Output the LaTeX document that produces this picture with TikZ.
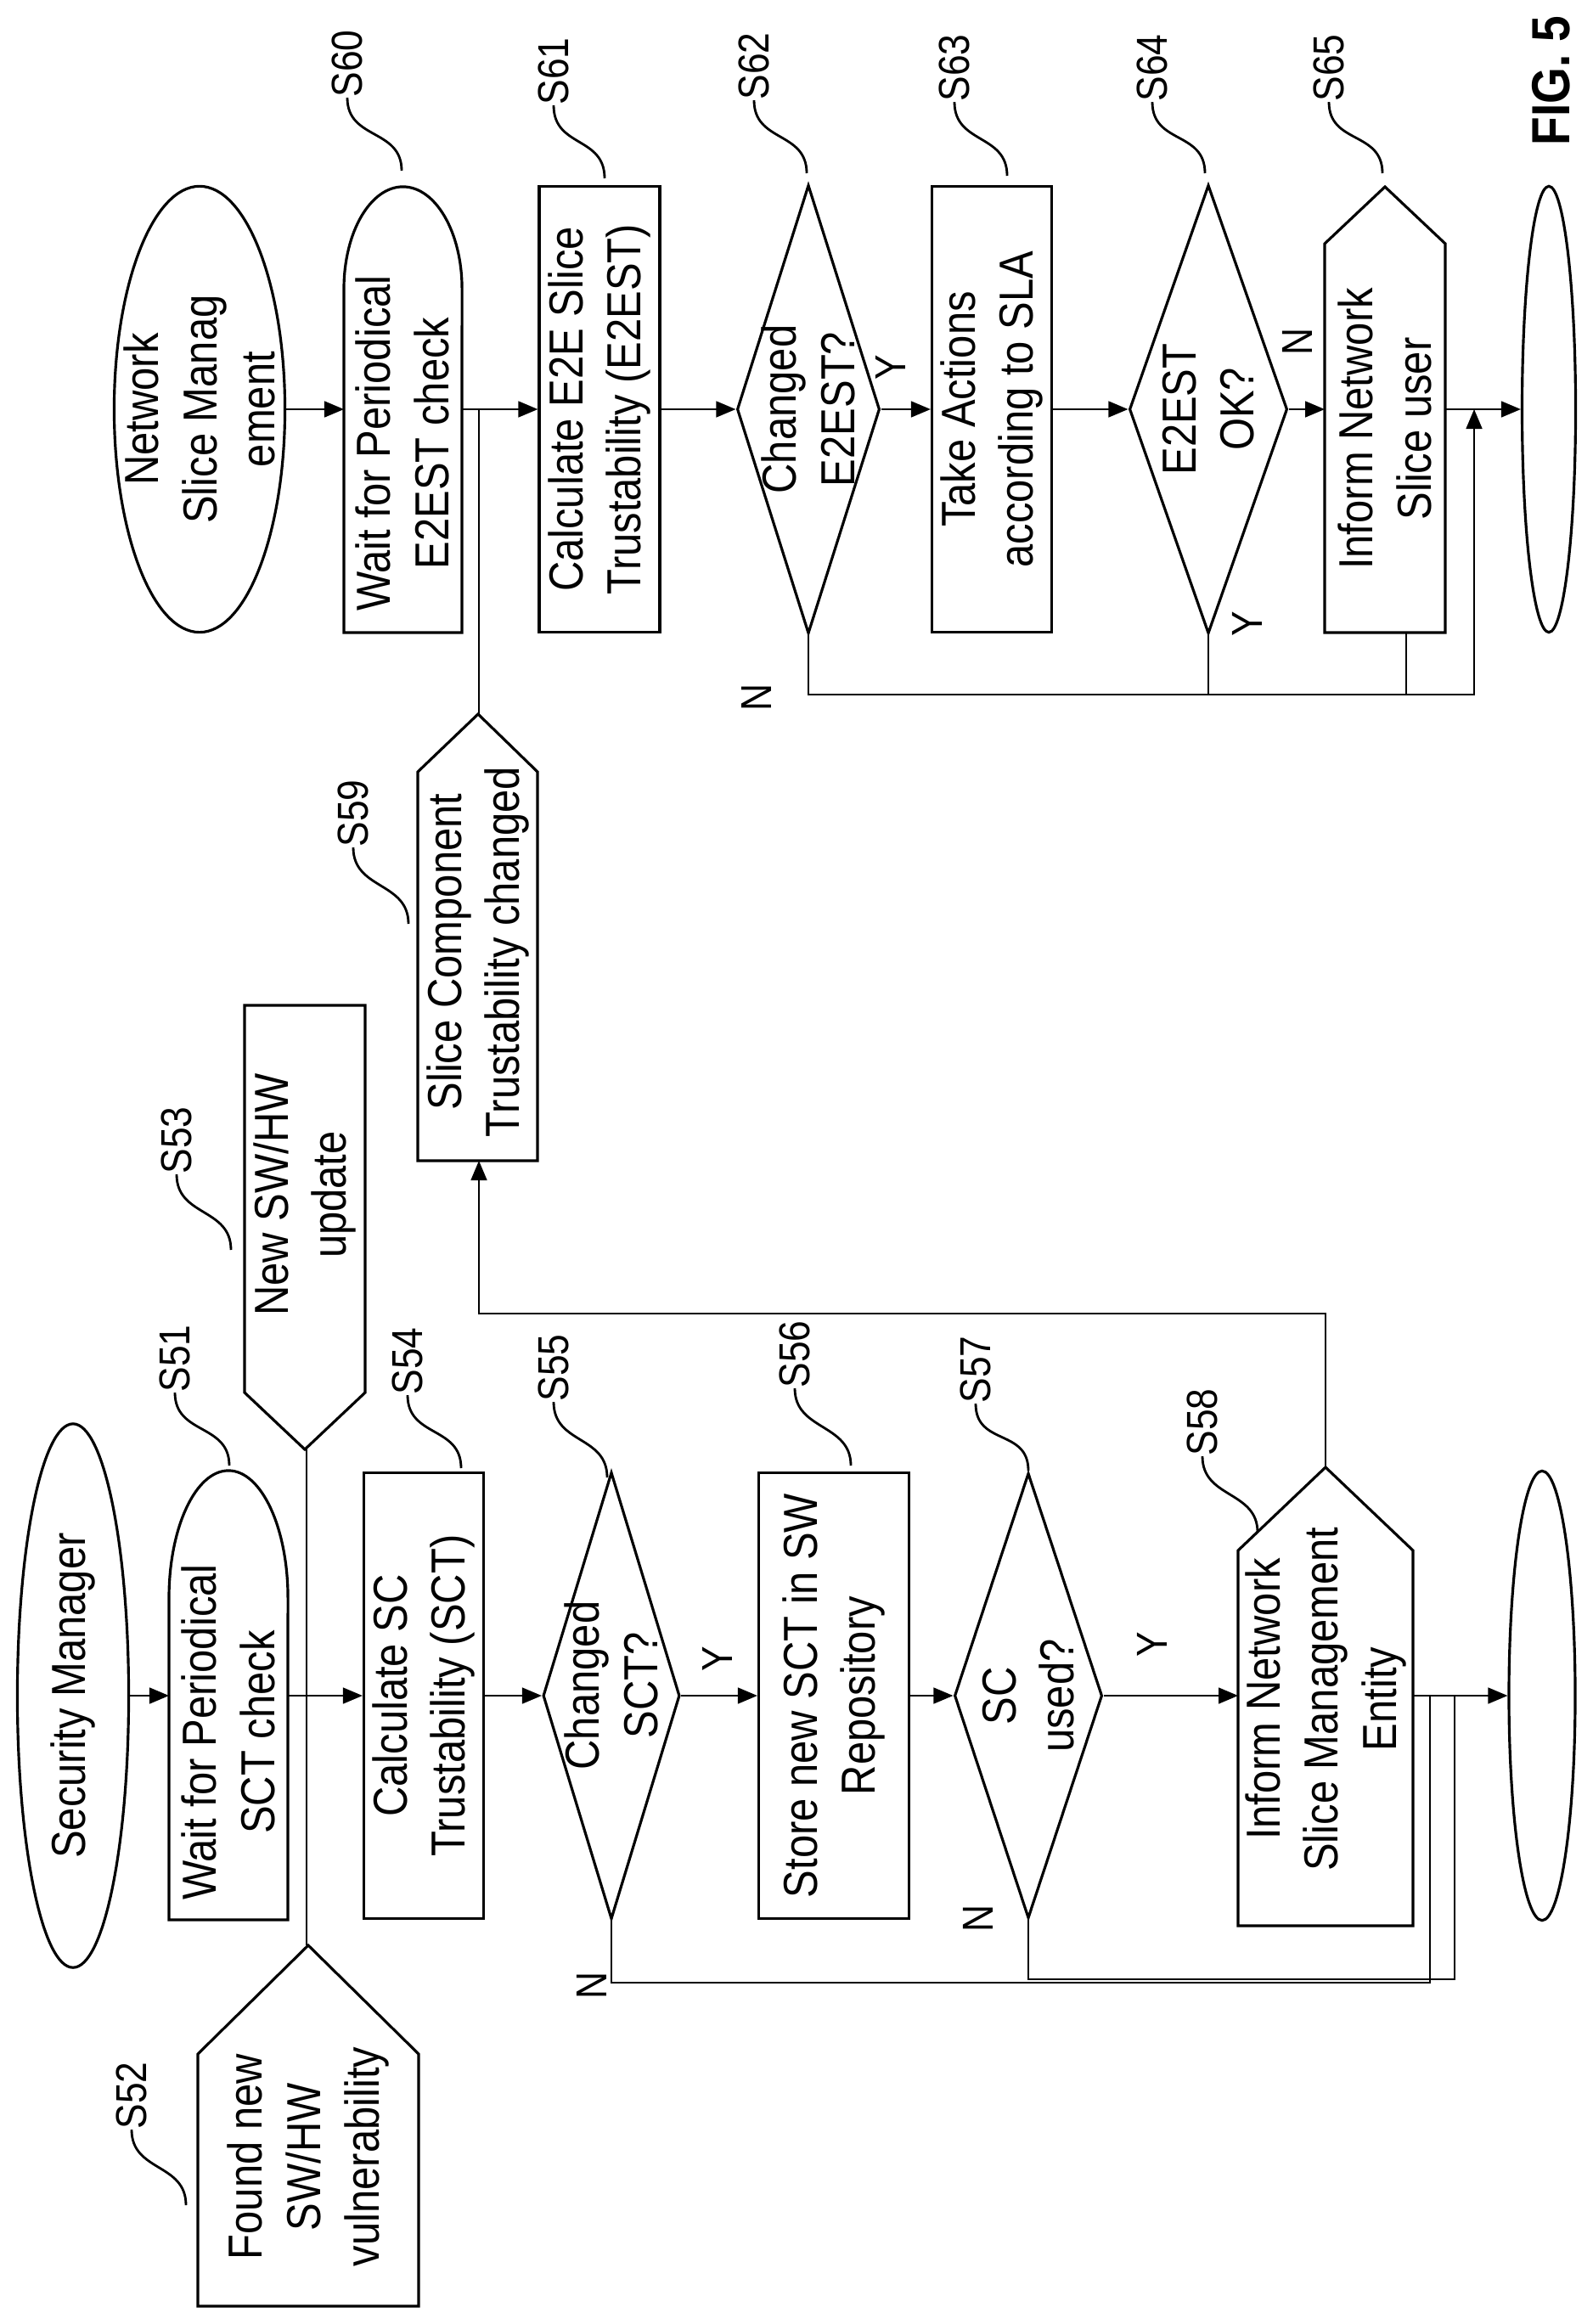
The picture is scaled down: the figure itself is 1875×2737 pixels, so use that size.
\documentclass[tikz,border=0pt]{standalone}
\usepackage{fontspec}
\setmainfont{Liberation Sans}[FakeStretch=0.87]
\usetikzlibrary{shapes.geometric,arrows.meta}

\newcommand{\boxfont}{\fontsize{16}{19.5}\selectfont}
\newcommand{\stepfont}{\fontsize{14.5}{17}\selectfont}

\tikzset{
  shp/.style={draw, line width=0.9pt, rotate=90, inner sep=0pt},
  term/.style={shp, ellipse},
  proc/.style={shp, rectangle, align=center, font=\boxfont},
  dec/.style={shp, diamond},
  txt/.style={rotate=90, align=center, inner sep=0pt, font=\boxfont},
  stepno/.style={rotate=90, inner sep=0pt, font=\stepfont},
  line/.style={line width=0.45pt},
  flow/.style={line, -{Triangle[length=2.3mm,width=1.9mm]}},
  lead/.style={line width=0.8pt},
  outline/.style={line width=0.9pt, line join=miter}
}

\begin{document}
\begin{tikzpicture}[x=0.01cm, y=-0.01cm]
  \useasboundingbox (0,0) rectangle (1875,2737);

  % lower flow
  \node [term, minimum width=6.4cm, minimum height=1.31cm] (sec) at (86,1997) {};
  \node [txt] at (sec) {Security Manager};
  \draw [outline] (199,2261) -- (199,1882)
    arc [start angle=180, end angle=0, x radius=0.7cm, y radius=1.5cm] -- (339,2261) -- cycle;
  \node [txt] (s51) at (269,2040) {Wait for Periodical\\SCT check};
  \coordinate (s51l) at (199,1997);
  \coordinate (s51r) at (339,1997);
  \draw [outline] (233,2716) -- (233,2419) -- (363,2291) -- (493,2419) -- (493,2716) -- cycle;
  \node [txt] (s52) at (363,2540) {Found new\\SW/HW\\vulnerability};
  \coordinate (s52t) at (361,2291);
  \draw [outline] (288,1184) -- (288,1640) -- (359,1707) -- (430,1640) -- (430,1184) -- cycle;
  \node [txt] (s53) at (359,1407) {New SW/HW\\update};
  \coordinate (s53t) at (361,1707);
  \node [proc, minimum width=5.24cm, minimum height=1.41cm] (s54) at (499,1997)
    {Calculate SC\\Trustability (SCT)};
  \node [dec, minimum width=5.26cm, minimum height=1.61cm] (s55) at (720,1997) {};
  \node [txt] at (720,1985) {Changed\\SCT?};
  \node [proc, minimum width=5.24cm, minimum height=1.77cm] (s56) at (982,1997)
    {Store new SCT in SW\\Repository};
  \node [dec, minimum width=5.24cm, minimum height=1.74cm] (s57) at (1211,1997) {};
  \node [txt] at (s57) {SC\\used?};
  \draw [outline] (1458,2268) -- (1458,1826) -- (1561,1728) -- (1664,1826) -- (1664,2268) -- cycle;
  \node [txt] (s58) at (1561,2001) {Inform Network\\Slice Management\\Entity};
  \coordinate (s58t) at (1561,1728);
  \coordinate (s58l) at (1458,1997);
  \coordinate (s58r) at (1664,1997);
  \node [term, minimum width=5.29cm, minimum height=0.78cm] (end1) at (1816,1997) {};
  \draw [outline] (492,1367) -- (492,909) -- (563,841) -- (633,909) -- (633,1367) -- cycle;
  \node [txt] (s59) at (563,1121) {Slice Component\\Trustability changed};
  \coordinate (s59t) at (564,841);
  \coordinate (s59b) at (564,1367);

  % upper flow
  \node [term, minimum width=5.25cm, minimum height=2.01cm] (nsm) at (235,482) {};
  \node [txt] at (nsm) {Network\\Slice Manag\\ement};
  \draw [outline] (405,745) -- (405,340)
    arc [start angle=180, end angle=0, x radius=0.695cm, y radius=1.2cm] -- (544,745) -- cycle;
  \node [txt] (s60) at (474,522) {Wait for Periodical\\E2EST check};
  \coordinate (s60l) at (405,482);
  \coordinate (s60r) at (544,482);
  \node [proc, minimum width=5.25cm, minimum height=1.42cm] (s61) at (706,482)
    {Calculate E2E Slice\\Trustability (E2EST)};
  \node [dec, minimum width=5.28cm, minimum height=1.68cm] (s62) at (952,482) {};
  \node [txt] at (s62) {Changed\\E2EST?};
  \node [proc, minimum width=5.25cm, minimum height=1.41cm] (s63) at (1168,482)
    {Take Actions\\according to SLA};
  \node [dec, minimum width=5.28cm, minimum height=1.86cm] (s64) at (1423,482) {};
  \node [txt] at (s64) {E2EST\\OK?};
  \draw [outline] (1560,745) -- (1560,287) -- (1631,220) -- (1702,287) -- (1702,745) -- cycle;
  \node [txt] (s65) at (1631,505) {Inform Network\\Slice user};
  \coordinate (s65l) at (1560,482);
  \coordinate (s65r) at (1702,482);
  \coordinate (s65b) at (1656,745);
  \node [term, minimum width=5.25cm, minimum height=0.63cm] (end2) at (1824,482) {};

  % step numbers
  \foreach \n/\lx/\ly/\ex/\ey in {51/206/1600/270/1726, 52/155/2468/219/2597,
      53/208/1343/272/1472, 54/480/1603/543/1729, 55/652/1611/715/1740,
      56/936/1595/1002/1726, 57/1149/1613/1211/1732, 58/1416/1675/1481/1805,
      59/416/958/481/1088, 60/409/75/473/201, 61/652/84/712/210,
      62/888/78/950/204, 63/1124/80/1186/207, 64/1357/80/1419/204,
      65/1565/80/1628/204} {
    \node [stepno] (l\n) at (\lx,\ly) {S\n};
    \coordinate (e\n) at (\ex,\ey);
    \draw [lead] (l\n.west) .. controls +(0,50) and +(0,-50) .. (e\n);
  }

  % connectors, lower
  \coordinate (j1) at (361,1997);
  \coordinate (r1a) at (1684,2335);
  \coordinate (r1b) at (1684,1997);
  \coordinate (r1c) at (1713,2331);
  \coordinate (r1d) at (1713,1997);
  \coordinate (r1e) at (564,1547);
  \draw [flow] (sec.south) -- (s51l);
  \draw [flow] (s51r) -- (s54.north);
  \draw [line] (s53t) -- (j1) -- (s52t);
  \draw [flow] (s54.south) -- (s55.north);
  \draw [flow] (s55.south) -- (s56.north);
  \draw [flow] (s56.south) -- (s57.north);
  \draw [flow] (s57.south) -- (s58l);
  \draw [flow] (s58r) -- (end1.north);
  \draw [line] (s55.west) |- (r1a) -- (r1b);
  \draw [line] (s57.west) |- (r1c) -- (r1d);
  \draw [flow] (s58t) |- (r1e) -- (s59b);

  % connectors, upper
  \coordinate (j2) at (564,482);
  \coordinate (r2a) at (1736,818);
  \coordinate (r2b) at (1736,482);
  \coordinate (r2c) at (1423,818);
  \coordinate (r2d) at (1656,818);
  \draw [flow] (nsm.south) -- (s60l);
  \draw [flow] (s60r) -- (s61.north);
  \draw [line] (j2) -- (s59t);
  \draw [flow] (s61.south) -- (s62.north);
  \draw [flow] (s62.south) -- (s63.north);
  \draw [flow] (s63.south) -- (s64.north);
  \draw [flow] (s64.south) -- (s65l);
  \draw [flow] (s65r) -- (end2.north);
  \draw [flow] (s62.west) |- (r2a) -- (r2b);
  \draw [line] (s64.west) -- (r2c);
  \draw [line] (s65b) -- (r2d);

  % branch labels
  \node [stepno] (y55) at (845,1954) {Y};
  \node [stepno] (n55) at (697,2338) {N};
  \node [stepno] (y57) at (1357,1937) {Y};
  \node [stepno] (n57) at (1152,2259) {N};
  \node [stepno] (y62) at (1049,433) {Y};
  \node [stepno] (n62) at (891,821) {N};
  \node [stepno] (n64) at (1528,402) {N};
  \node [stepno] (y64) at (1469,735) {Y};

  \node [rotate=90, inner sep=0pt, font=\fontsize{18}{20}\selectfont\bfseries] (fig) at (1827,95) {FIG. 5};
\end{tikzpicture}
\end{document}
